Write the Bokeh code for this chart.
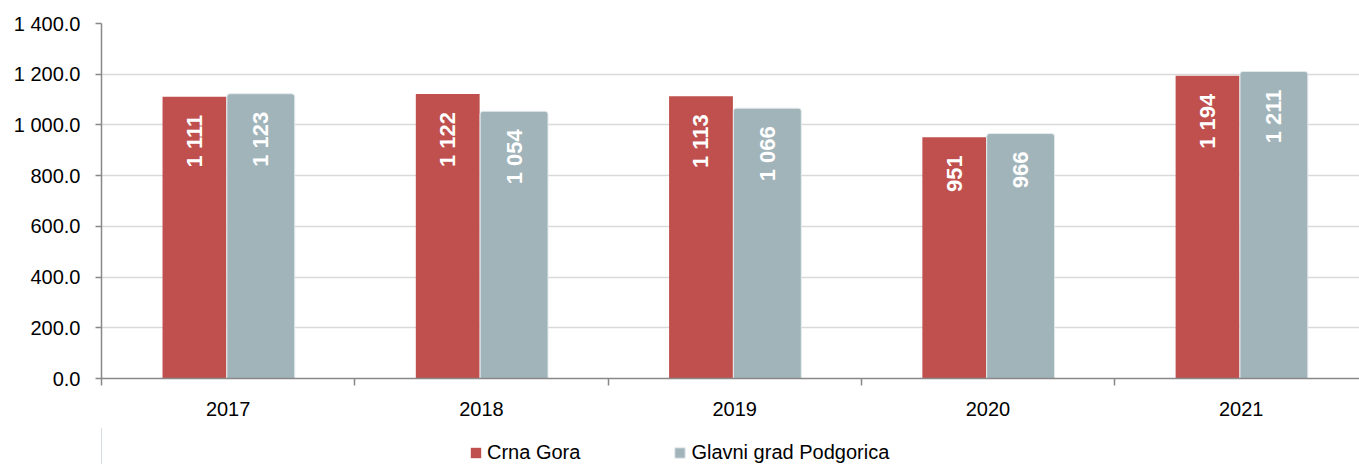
import math
from bokeh.plotting import figure
from bokeh.layouts import column
from bokeh.models import (ColumnDataSource, FixedTicker, CustomJSTickFormatter, Legend,
                          LegendItem, Range1d)
from bokeh.core.properties import value
from bokeh.transform import dodge
from bokeh.embed import file_html
from bokeh.resources import INLINE

years = ["2017", "2018", "2019", "2020", "2021"]
crna_gora = [1111, 1122, 1113, 951, 1194]
podgorica = [1123, 1054, 1066, 966, 1211]
series_names = ["Crna Gora", "Glavni grad Podgorica"]
y_ticks = [0, 200, 400, 600, 800, 1000, 1200, 1400]

FONT = "Liberation Sans"
RED = "#C0504D"
GREY = "#A1B4BA"
GREY_EDGE = "#E4EAEC"
RED_OFF, GREY_OFF = -0.133, 0.129


def fmt(v):
    return f"{v:,}".replace(",", " ")


xs = [i + 0.5 for i in range(len(years))]
src = ColumnDataSource(dict(
    x=xs, cg=crna_gora, pg=podgorica,
    cg_lbl=[fmt(v) for v in crna_gora], pg_lbl=[fmt(v) for v in podgorica],
))

p = figure(frame_width=1258, frame_height=355, x_range=Range1d(0, 4.967), y_range=Range1d(0, 1400),
           output_backend="svg", toolbar_location=None,
           min_border_left=101, min_border_right=0, min_border_top=23, min_border_bottom=50)
p.outline_line_color = None
p.background_fill_color = "white"

p.vbar(x=dodge("x", RED_OFF, range=p.x_range), top="cg", bottom=0, width=0.252,
       fill_color=RED, line_color=None, source=src)
p.vbar(x=dodge("x", GREY_OFF, range=p.x_range), top="pg", bottom=0, width=0.268,
       fill_color=GREY, line_color=GREY_EDGE, line_width=1,
       border_radius=[3, 3, 0, 0], source=src)

common = dict(angle=math.pi / 2, text_align="right", text_baseline="middle", y_offset=18,
              text_color="white", text_font_style="bold", text_font_size="22px",
              text_font=value(FONT), source=src)
p.text(x=dodge("x", RED_OFF, range=p.x_range), y="cg", text="cg_lbl", **common)
p.text(x=dodge("x", GREY_OFF, range=p.x_range), y="pg", text="pg_lbl", **common)

# grid
p.xgrid.grid_line_color = None
p.ygrid.grid_line_color = "#D9D9D9"
p.ygrid.grid_line_width = 1.5

# y axis
p.yaxis.ticker = FixedTicker(ticks=y_ticks)
p.yaxis.formatter = CustomJSTickFormatter(code="""
    const s = tick.toFixed(1);
    const parts = s.split('.');
    const ip = parts[0].replace(/\\B(?=(\\d{3})+(?!\\d))/g, ' ');
    return ip + '.' + parts[1];
""")
p.yaxis.axis_line_color = "#888888"
p.yaxis.axis_line_width = 1.5
p.yaxis.major_tick_line_color = "#888888"
p.yaxis.major_tick_line_width = 1.5
p.yaxis.major_tick_out = 6
p.yaxis.major_tick_in = 0
p.yaxis.minor_tick_line_color = None
p.yaxis.major_label_text_font = FONT
p.yaxis.major_label_text_font_size = "20px"
p.yaxis.major_label_text_color = "#000000"
p.yaxis.major_label_standoff = 15

# x axis
p.xaxis.ticker = FixedTicker(ticks=xs, minor_ticks=[float(i) for i in range(len(years) + 1)])
p.xaxis.major_label_overrides = {x: y for x, y in zip(xs, years)}
p.xaxis.axis_line_color = "#888888"
p.xaxis.axis_line_width = 1.5
p.xaxis.major_tick_line_color = None
p.xaxis.major_tick_out = 0
p.xaxis.major_tick_in = 0
p.xaxis.minor_tick_line_color = "#888888"
p.xaxis.minor_tick_line_width = 1.5
p.xaxis.minor_tick_out = 7
p.xaxis.minor_tick_in = 0
p.xaxis.major_label_text_font = FONT
p.xaxis.major_label_text_font_size = "20px"
p.xaxis.major_label_text_color = "#000000"
p.xaxis.major_label_standoff = 16

# legend strip below the chart; its bars use the same data but lie outside its visible range
leg = figure(width=1359, height=36, x_range=Range1d(100, 101), y_range=Range1d(0, 1),
             output_backend="svg", toolbar_location=None,
             min_border=0, min_border_left=0, min_border_right=0,
             min_border_top=0, min_border_bottom=0)
leg.axis.visible = False
leg.grid.visible = False
leg.outline_line_color = None
leg.background_fill_color = None
leg.border_fill_color = None
lr1 = leg.vbar(x="x", top="cg", width=0.1, fill_color=RED, line_color=None, source=src)
lr2 = leg.vbar(x="x", top="pg", width=0.1, fill_color=GREY, line_color=GREY_EDGE,
               border_radius=2, source=src)

legend = Legend(items=[LegendItem(label=series_names[0], renderers=[lr1]),
                       LegendItem(label=series_names[1], renderers=[lr2])],
                orientation="horizontal", location=(368, 0),
                border_line_color=None, background_fill_alpha=0,
                label_text_font=FONT, label_text_font_size="20px",
                label_text_color="#000000", label_height=20,
                glyph_width=13, glyph_height=13, label_standoff=5, spacing=93,
                padding=2, margin=0)
leg.add_layout(legend, "center")

layout = column(p, leg, spacing=0)
open("out.html", "w").write(file_html(layout, INLINE))
